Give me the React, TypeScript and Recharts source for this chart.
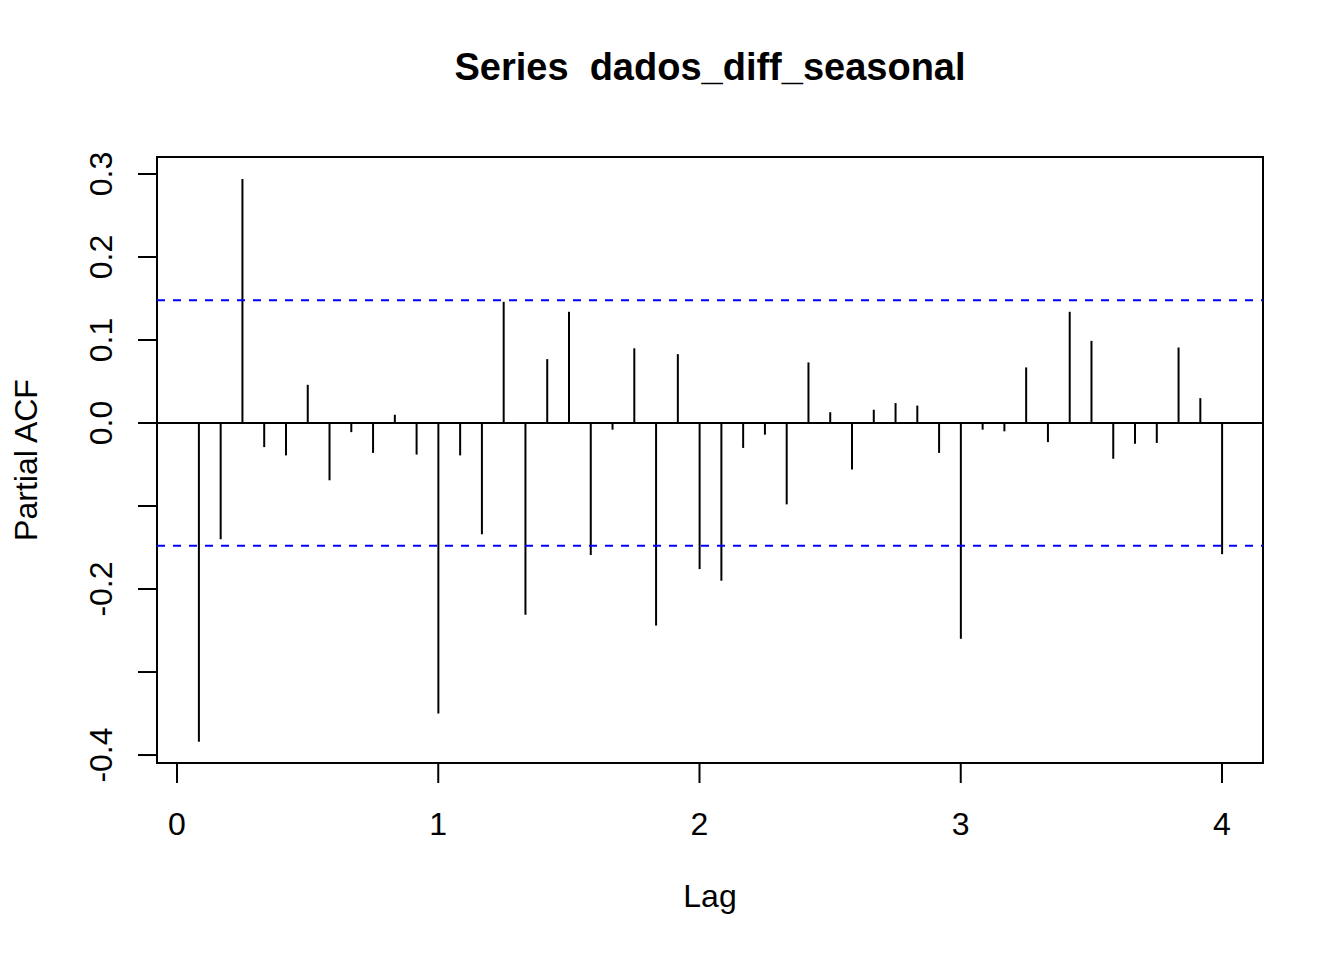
import React from 'react';
import { ComposedChart, Bar, XAxis, YAxis, ReferenceLine, ReferenceArea } from 'recharts';

// lag in months (frequency 12) and the partial autocorrelations
const lagMonths = [
  1, 2, 3, 4, 5, 6, 7, 8, 9, 10, 11, 12,
  13, 14, 15, 16, 17, 18, 19, 20, 21, 22, 23, 24,
  25, 26, 27, 28, 29, 30, 31, 32, 33, 34, 35, 36,
  37, 38, 39, 40, 41, 42, 43, 44, 45, 46, 47, 48,
];
const pacfValues = [
  -0.384, -0.140, 0.294, -0.029, -0.039, 0.046, -0.069, -0.011, -0.036, 0.010, -0.038, -0.350,
  -0.039, -0.134, 0.146, -0.231, 0.077, 0.134, -0.159, -0.008, 0.090, -0.244, 0.083, -0.176,
  -0.190, -0.030, -0.014, -0.098, 0.073, 0.013, -0.056, 0.016, 0.024, 0.021, -0.036, -0.260,
  -0.008, -0.010, 0.067, -0.023, 0.134, 0.099, -0.043, -0.025, -0.024, 0.091, 0.030, -0.158,
];
const confBound = 0.148;
const xTicks = [0, 1, 2, 3, 4];
const yTicks = [-0.4, -0.3, -0.2, -0.1, 0, 0.1, 0.2, 0.3];
const yLabels: Record<string, string> = {
  '0.3': '0.3', '0.2': '0.2', '0.1': '0.1', '0': '0.0', '-0.2': '-0.2', '-0.4': '-0.4',
};

const data = lagMonths.map((m, i) => ({ lag: m / 12, pacf: pacfValues[i] }));

const FONT = '"Liberation Sans", Arial, Helvetica, sans-serif';
const X_DOMAIN: [number, number] = [-0.0766, 4.157];
const Y_DOMAIN: [number, number] = [-0.4096, 0.3205];

const XTick = ({ x, y, payload }: any) => (
  <text x={x} y={y + 52} textAnchor="middle" fontFamily={FONT} fontSize={32} fill="#000">
    {payload.value}
  </text>
);

const YTick = ({ x, y, payload }: any) => {
  const label = yLabels[String(Math.round(payload.value * 10) / 10)];
  if (!label) return null;
  const tx = x - 26;
  return (
    <text x={tx} y={y} transform={`rotate(-90, ${tx}, ${y})`} textAnchor="middle" fontFamily={FONT} fontSize={32} fill="#000">
      {label}
    </text>
  );
};

export default function App() {
  return (
    <div style={{ position: 'absolute', left: 0, top: 0, width: 1344, height: 960, background: '#fff' }}>
      <ComposedChart width={1344} height={960} data={data} margin={{ top: 157, right: 81, bottom: 0, left: 0 }}>
        <XAxis
          dataKey="lag"
          type="number"
          domain={X_DOMAIN}
          allowDataOverflow
          ticks={xTicks}
          height={197}
          axisLine={false}
          tickLine={{ stroke: '#000', strokeWidth: 2 }}
          tickSize={20}
          tickMargin={0}
          tick={<XTick />}
        />
        <YAxis
          type="number"
          domain={Y_DOMAIN}
          allowDataOverflow
          ticks={yTicks}
          width={157}
          axisLine={false}
          tickLine={{ stroke: '#000', strokeWidth: 2 }}
          tickSize={19}
          tickMargin={0}
          tick={<YTick />}
        />
        <ReferenceLine y={0} stroke="#000" strokeWidth={2} />
        <ReferenceLine y={confBound} stroke="#0000ff" strokeWidth={2} strokeDasharray="8 8" />
        <ReferenceLine y={-confBound} stroke="#0000ff" strokeWidth={2} strokeDasharray="8 8" />
        <Bar dataKey="pacf" fill="#000" barSize={2} isAnimationActive={false} />
        <ReferenceArea
          x1={X_DOMAIN[0]}
          x2={X_DOMAIN[1]}
          y1={Y_DOMAIN[0]}
          y2={Y_DOMAIN[1]}
          fill="none"
          fillOpacity={0}
          stroke="#000"
          strokeWidth={2}
          ifOverflow="visible"
        />
      </ComposedChart>
      <svg width={1344} height={960} style={{ position: 'absolute', left: 0, top: 0, pointerEvents: 'none' }}>
        <text x={710} y={80} textAnchor="middle" fontFamily={FONT} fontSize={38} fontWeight="bold" fill="#000" style={{ whiteSpace: 'pre' }}>
          {'Series  dados_diff_seasonal'}
        </text>
        <text x={710} y={907} textAnchor="middle" fontFamily={FONT} fontSize={32} fill="#000">
          Lag
        </text>
        <text x={37} y={460} transform="rotate(-90, 37, 460)" textAnchor="middle" fontFamily={FONT} fontSize={32} fill="#000">
          Partial ACF
        </text>
      </svg>
    </div>
  );
}
